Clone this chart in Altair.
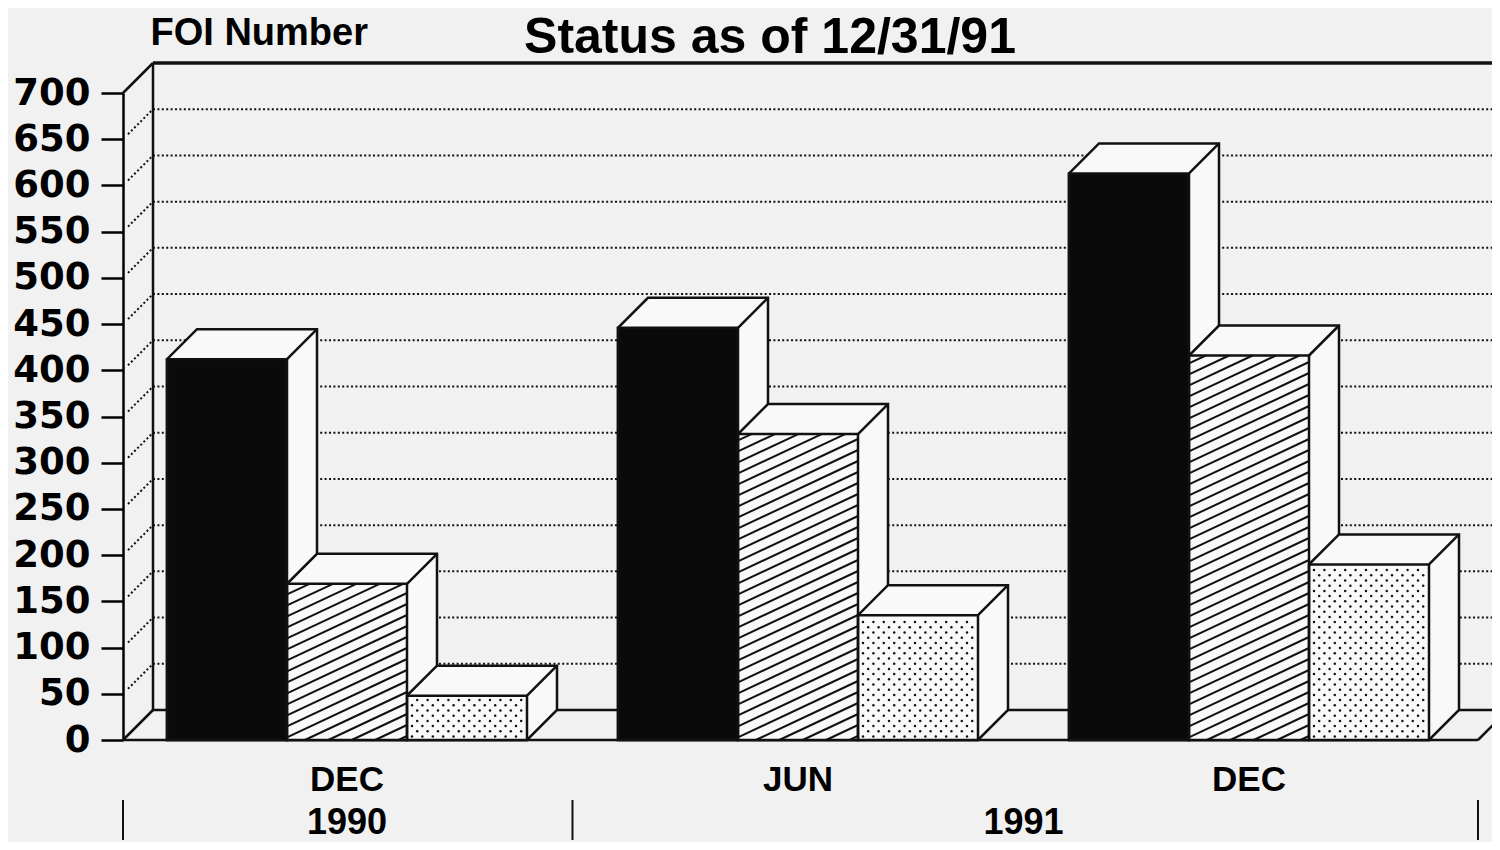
import altair as alt
import numpy as np
import pandas as pd

# ---------------- data ----------------
months = ["DEC", "JUN", "DEC"]
years = ["1990", "1991", "1991"]
series_names = ["solid", "hatched", "dotted"]
solid_values = [412, 446, 613]
hatched_values = [169, 331, 416]
dotted_values = [48, 135, 190]
y_ticks = list(range(0, 701, 50))
title_text = "Status as of 12/31/91"
y_title = "FOI Number"

# ---------------- layout / style constants ----------------
PLOT_W = 1369
PLOT_H = 647
PAD_LEFT = 115
PAD_TOP = 85
Y_MAX = 700
PX_PER_UNIT = PLOT_H / Y_MAX
DEPTH_PX = 30
DX = DEPTH_PX                      # x domain is measured in pixels
DY = DEPTH_PX / PX_PER_UNIT        # same depth expressed in y units
BAR_W = 120
GROUP_START = 44
GROUP_STEP = 451
FLOOR_END = GROUP_START + 2 * GROUP_STEP + 3 * BAR_W + 49

PAPER = "#f1f1f1"
FACE = "#f9f9f9"
INK = "#111111"
SERIES_FILL = ["#0a0a0a", FACE, FACE]

# ---------------- derived tables ----------------
all_values = [solid_values, hatched_values, dotted_values]
bars = []
for g in range(len(months)):
    for s in range(len(series_names)):
        x0 = GROUP_START + g * GROUP_STEP + s * BAR_W
        v = all_values[s][g]
        bars.append(dict(bar=f"b{g}{s}", series=series_names[s], g=g, s=s,
                         x0=x0, x1=x0 + BAR_W, xb1=x0 + BAR_W + DX,
                         v=v, vb=v + DY, zero=0.0))
bars_df = pd.DataFrame(bars)

# silhouettes of the boxes (front + top + side), as areas
sil = []
for b in bars:
    pts = [(b["x0"], 0.0, b["v"]),
           (b["x0"] + DX, 0.0, b["v"] + DY),
           (b["x1"], 0.0, b["v"] + DY),
           (b["x1"] + DX, DY, b["v"] + DY)]
    for x, lo, hi in pts:
        sil.append(dict(bar=b["bar"], s=b["s"], x=x, lo=lo, hi=hi))
sil_df = pd.DataFrame(sil)

# hatching of the second series (diagonal lines clipped to the front face)
slope, spacing = 0.47, 11.0
hatch = []
for b in bars:
    if b["s"] != 1:
        continue
    h = b["v"] * PX_PER_UNIT
    w = BAR_W
    for c in np.arange(-slope * w + 4, h, spacing):
        xa = max(0.0, (0 - c) / slope)
        xb = min(w, (h - c) / slope)
        if xb - xa > 1:
            hatch.append(dict(x=b["x0"] + xa, y=(c + slope * xa) / PX_PER_UNIT,
                              x2=b["x0"] + xb, y2=(c + slope * xb) / PX_PER_UNIT))
hatch_df = pd.DataFrame(hatch)

# dots of the third series
dots = []
for b in bars:
    if b["s"] != 2:
        continue
    h = b["v"] * PX_PER_UNIT
    r = 0
    ypx = 3.5
    while ypx < h - 2:
        xpx = 5 + (r % 2) * 5.2
        while xpx < BAR_W - 2:
            dots.append(dict(x=b["x0"] + xpx, y=ypx / PX_PER_UNIT))
            xpx += 10.4
        r += 1
        ypx += 5.2
dots_df = pd.DataFrame(dots)

# walls: dotted gridlines (back wall and side wall)
grid = []
for v in y_ticks[1:-1]:
    grid.append(dict(x=DX, y=v + DY, x2=FLOOR_END + DX + 60, y2=v + DY))
    grid.append(dict(x=5, y=v + 5 / PX_PER_UNIT, x2=DX, y2=v + DY))
grid_df = pd.DataFrame(grid)

# walls / floor solid edges
frame = [
    dict(x=0, y=Y_MAX, x2=DX, y2=Y_MAX + DY, w=2.5),
    dict(x=DX, y=Y_MAX + DY, x2=FLOOR_END + DX + 60, y2=Y_MAX + DY, w=3.5),
    dict(x=DX, y=DY, x2=DX, y2=Y_MAX + DY, w=2.5),
    dict(x=0, y=0, x2=DX, y2=DY, w=2.5),
    dict(x=DX, y=DY, x2=FLOOR_END + DX, y2=DY, w=2.5),
    dict(x=FLOOR_END, y=0, x2=FLOOR_END + DX, y2=DY, w=2.5),
    dict(x=0, y=0, x2=FLOOR_END, y2=0, w=2.5),
]
frame_df = pd.DataFrame(frame)

# category labels
group_centers = [GROUP_START + g * GROUP_STEP + 1.5 * BAR_W for g in range(len(months))]
month_df = pd.DataFrame(dict(x=group_centers, t=months))
year_rows = []
for y in dict.fromkeys(years):
    xs = [c for c, yy in zip(group_centers, years) if yy == y]
    year_rows.append(dict(x=float(np.mean(xs)), t=y))
year_df = pd.DataFrame(year_rows)
seps = [0.0]
for g in range(len(years) - 1):
    if years[g] != years[g + 1]:
        end_g = GROUP_START + g * GROUP_STEP + 3 * BAR_W
        start_n = GROUP_START + (g + 1) * GROUP_STEP
        seps.append((end_g + start_n) / 2)
seps.append(FLOOR_END)
sep_df = pd.DataFrame(dict(x=seps))

# ---------------- encodings ----------------
XS = alt.Scale(domain=[0, PLOT_W], nice=False, zero=False)
YS = alt.Scale(domain=[0, Y_MAX], nice=False)
YAXIS = alt.Axis(values=y_ticks, format="d", title=y_title, titleAngle=0,
                 titleX=27, titleY=-49, titleAlign="left", titleBaseline="alphabetic",
                 titleFont="Liberation Sans", titleFontSize=38, titleFontWeight="bold",
                 titleColor="black", labelFont="DejaVu Sans", labelFontSize=37,
                 labelFontWeight="bold", labelColor="black", labelPadding=11,
                 labelOverlap=False, tickSize=22, tickWidth=2.5, tickColor="black",
                 domainColor="black", domainWidth=2.5, grid=False)


def X(f):
    return alt.X(f, type="quantitative", scale=XS, axis=None)


def Y(f):
    return alt.Y(f, type="quantitative", scale=YS, axis=YAXIS)


layers = []

layers.append(alt.Chart(grid_df).mark_rule(color=INK, strokeWidth=2, strokeDash=[2, 2.4]).encode(
    x=X("x"), y=Y("y"), x2="x2", y2="y2"))
layers.append(alt.Chart(frame_df).mark_rule(color=INK).encode(
    x=X("x"), y=Y("y"), x2="x2", y2="y2",
    strokeWidth=alt.StrokeWidth("w:Q", scale=None)))

for s in range(len(series_names)):
    layers.append(alt.Chart(sil_df).transform_filter(alt.datum.s == s).mark_area(
        fill=FACE, stroke=INK, strokeWidth=2.5, strokeJoin="miter", opacity=1).encode(
        x=X("x"), y=Y("lo"), y2="hi", detail="bar:N"))

layers.append(alt.Chart(bars_df).mark_rect(strokeWidth=0).encode(
    x=X("x0"), x2="x1", y=Y("zero"), y2="v",
    fill=alt.Fill("series:N", scale=alt.Scale(domain=series_names, range=SERIES_FILL), legend=None)))

layers.append(alt.Chart(hatch_df).mark_rule(color=INK, strokeWidth=2).encode(
    x=X("x"), y=Y("y"), x2="x2", y2="y2"))

layers.append(alt.Chart(dots_df).mark_circle(color=INK, size=6, opacity=1).encode(
    x=X("x"), y=Y("y")))

layers.append(alt.Chart(bars_df).mark_rect(fillOpacity=0, stroke=INK, strokeWidth=2.5).encode(
    x=X("x0"), x2="x1", y=Y("zero"), y2="v"))

layers.append(alt.Chart(bars_df).mark_rule(color=INK, strokeWidth=2.5).encode(
    x=X("x1"), y=Y("v"), x2="xb1", y2="vb"))

layers.append(alt.Chart(month_df).mark_text(font="Liberation Sans", fontSize=35, fontWeight="bold",
                                            color="black", align="center", baseline="alphabetic").encode(
    x=X("x"), y=alt.value(698), text="t:N"))
layers.append(alt.Chart(year_df).mark_text(font="Liberation Sans", fontSize=36, fontWeight="bold",
                                           color="black", align="center", baseline="alphabetic").encode(
    x=X("x"), y=alt.value(741), text="t:N"))
layers.append(alt.Chart(sep_df).mark_rule(color=INK, strokeWidth=2).encode(
    x=X("x"), y=alt.value(707), y2=alt.value(747)))
layers.append(alt.Chart(pd.DataFrame(dict(t=[title_text]))).mark_text(
    font="Liberation Sans", fontSize=50, fontWeight="bold", color="black",
    align="center", baseline="alphabetic").encode(
    x=alt.value(647), y=alt.value(-40), text="t:N"))

chart = alt.layer(*layers).properties(
    width=PLOT_W, height=PLOT_H,
    autosize=alt.AutoSizeParams(type="none"),
    padding={"left": PAD_LEFT, "top": PAD_TOP, "right": 0, "bottom": 834 - PAD_TOP - PLOT_H},
    background=PAPER,
).configure_view(stroke=None)

chart.save("out.html", embed_options={"renderer": "svg", "actions": False})
